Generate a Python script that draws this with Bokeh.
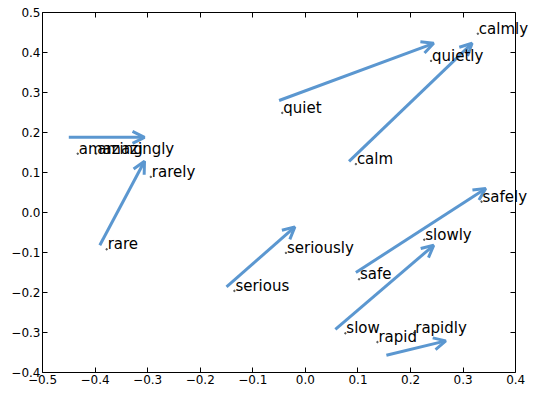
from bokeh.plotting import figure
from bokeh.models import (ColumnDataSource, Arrow, OpenHead, LabelSet, FixedTicker,
                          Range1d, LinearAxis)
from bokeh.core.properties import value
from bokeh.embed import file_html
from bokeh.resources import INLINE

# word labels (positions)
words = ["amazing", "amazingly", "rare", "rarely", "quiet", "quietly", "calm", "calmly",
         "serious", "seriously", "safe", "safely", "slow", "slowly", "rapid", "rapidly"]
word_x = [-0.433, -0.398, -0.378, -0.294, -0.044, 0.239, 0.096, 0.328,
          -0.135, -0.037, 0.102, 0.335, 0.076, 0.226, 0.137, 0.207]
word_y = [0.147, 0.147, -0.092, 0.089, 0.249, 0.379, 0.121, 0.447,
          -0.196, -0.101, -0.167, 0.027, -0.302, -0.068, -0.324, -0.300]

# arrows (base -> adverb)
arrow_x0 = [-0.450, -0.391, -0.050, 0.083, -0.150, 0.096, 0.057, 0.154]
arrow_y0 = [0.188, -0.082, 0.280, 0.128, -0.186, -0.150, -0.292, -0.357]
arrow_x1 = [-0.306, -0.306, 0.244, 0.317, -0.020, 0.343, 0.244, 0.267]
arrow_y1 = [0.188, 0.128, 0.423, 0.423, -0.036, 0.060, -0.082, -0.321]

xticks = [-0.5, -0.4, -0.3, -0.2, -0.1, 0.0, 0.1, 0.2, 0.3, 0.4]
yticks = [-0.4, -0.3, -0.2, -0.1, 0.0, 0.1, 0.2, 0.3, 0.4, 0.5]

def fmt(v):
    s = "%.1f" % v
    return s.replace("-", "\u2212")

# extra room to the right of the box so overflowing labels are not clipped
x_pad = 0.03

p = figure(width=531, height=389, output_backend="svg", toolbar_location=None,
           x_range=Range1d(xticks[0], xticks[-1] + x_pad), y_range=Range1d(yticks[0], yticks[-1]),
           min_border_left=42, min_border_right=0, min_border_top=12, min_border_bottom=17)
p.background_fill_color = "white"
p.border_fill_color = "white"
p.grid.visible = False
p.outline_line_color = None

def style(ax, ticks, labels=True):
    ax.ticker = FixedTicker(ticks=ticks)
    ax.bounds = (ticks[0], ticks[-1])
    ax.major_label_overrides = {t: (fmt(t) if labels else "") for t in ticks}
    ax.major_tick_in = 5
    ax.major_tick_out = 0
    ax.minor_tick_in = 0
    ax.minor_tick_out = 0
    ax.axis_line_color = "black"
    ax.axis_line_width = 1
    ax.major_tick_line_color = "black"
    ax.major_label_text_font = "DejaVu Sans"
    ax.major_label_text_font_size = "12px" if labels else "1px"
    ax.major_label_text_color = "black"
    ax.major_label_standoff = 2 if labels else 0

style(p.xaxis[0], xticks)
style(p.yaxis[0], yticks)

top_axis = LinearAxis()
style(top_axis, xticks, labels=False)
p.add_layout(top_axis, "above")

right_axis = LinearAxis(fixed_location=xticks[-1])
style(right_axis, yticks, labels=False)
p.add_layout(right_axis, "right")

asrc = ColumnDataSource(dict(x0=arrow_x0, y0=arrow_y0, x1=arrow_x1, y1=arrow_y1))
p.add_layout(Arrow(source=asrc, x_start="x0", y_start="y0", x_end="x1", y_end="y1",
                   line_color="#5b97d0", line_width=3,
                   end=OpenHead(size=12, line_color="#5b97d0", line_width=3)))

wsrc = ColumnDataSource(dict(x=word_x, y=word_y, t=words))
p.scatter("x", "y", source=wsrc, size=1.5, color="#555555")
p.add_layout(LabelSet(source=wsrc, x="x", y="y", text="t", x_offset=1, level="overlay",
                      text_font=value("DejaVu Sans"), text_font_size=value("15px"),
                      text_color="black", text_baseline="alphabetic", text_align="left"))

open("out.html", "w").write(file_html(p, INLINE))
